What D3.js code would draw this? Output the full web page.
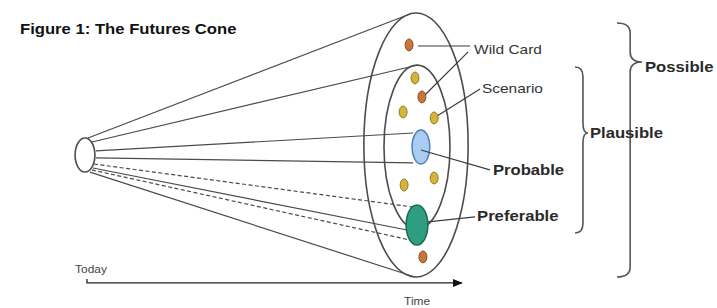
<!doctype html>
<html>
  <head>
    <style>
      body { margin: 0; background: white; }
      text { font-family: "Liberation Sans", Arial, Helvetica, sans-serif; }
    </style>
    <script src="https://d3js.org/d3.v7.min.js"></script>
  </head>
  <body>
    <div id="chart"></div>
    <script>
      var width = 717, height = 308;

      // diagram units: time 0 (today) .. 10 (horizon), spread -10 (top) .. 10 (bottom)
      var cone = [{ t: 0, s: 0.76, rt: 0.3, rs: 1.29 }];
      var rings = [
        { name: "Possible", t: 10.03, s: 0, rt: 1.58, rs: 10 },
        { name: "Plausible", t: 10.06, s: 0.15, rt: 1.0, rs: 6.2 }
      ];
      var blobs = [
        { name: "Probable", t: 10.18, s: 0.15, rt: 0.27, rs: 1.29, fill: "#a9cdf2", stroke: "#4f7fb8" },
        { name: "Preferable", t: 10.06, s: 6.06, rt: 0.33, rs: 1.52, fill: "#2f9e80", stroke: "#1c6b52" }
      ];
      var dotT = [9.82, 10.0, 10.21, 9.64, 10.58, 9.67, 10.58, 10.24];
      var dotS = [-7.58, -5.08, -3.64, -2.5, -2.05, 3.03, 2.5, 8.48];
      var dotKind = ["wild", "scenario", "wild", "scenario", "scenario", "scenario", "scenario", "wild"];

      // rays from today's cone to the future
      var rays = [
        { t0: 0.09, s0: -0.53, t1: 9.85, s1: -9.92, dash: false },
        { t0: 0.21, s0: -0.23, t1: 10.09, s1: -6.06, dash: false },
        { t0: 0.33, s0: 0.45, t1: 9.94, s1: -0.91, dash: false },
        { t0: 0.33, s0: 0.98, t1: 9.94, s1: 1.36, dash: false },
        { t0: 0.27, s0: 1.44, t1: 9.94, s1: 4.7, dash: true },
        { t0: 0.24, s0: 1.74, t1: 9.76, s1: 6.44, dash: false },
        { t0: 0.21, s0: 1.89, t1: 9.85, s1: 7.2, dash: true },
        { t0: 0.15, s0: 2.05, t1: 10.0, s1: 10.0, dash: false }
      ];
      var leaders = [
        { t0: 10.09, s0: -7.5, t1: 11.67, s1: -7.5 },
        { t0: 11.61, s0: -7.05, t1: 10.3, s1: -3.79 },
        { t0: 11.97, s0: -4.24, t1: 10.67, s1: -2.2 },
        { t0: 10.18, s0: 0.38, t1: 12.27, s1: 1.89 },
        { t0: 10.39, s0: 5.83, t1: 11.82, s1: 5.45 }
      ];
      var braces = [
        { tEnd: 14.85, tSpine: 15.09, tTip: 15.24, s0: -5.91, sMid: -0.91, s1: 6.67 },
        { tEnd: 16.12, tSpine: 16.52, tTip: 16.88, s0: -9.24, sMid: -6.29, s1: 10.0 }
      ];
      var labels = [
        { text: "Figure 1: The Futures Cone", t: -1.97, s: -8.41, size: 14, weight: "bold", color: "#111" },
        { text: "Wild Card", t: 11.79, s: -6.89, size: 13, weight: "normal", color: "#333" },
        { text: "Scenario", t: 12.03, s: -3.94, size: 13, weight: "normal", color: "#333" },
        { text: "Probable", t: 12.36, s: 2.27, size: 14, weight: "bold", color: "#2a2a2a" },
        { text: "Preferable", t: 11.88, s: 5.76, size: 14, weight: "bold", color: "#2a2a2a" },
        { text: "Plausible", t: 15.3, s: -0.53, size: 14, weight: "bold", color: "#2a2a2a" },
        { text: "Possible", t: 16.97, s: -5.53, size: 14, weight: "bold", color: "#2a2a2a" },
        { text: "Today", t: -0.3, s: 9.7, size: 10, weight: "normal", color: "#444" },
        { text: "Time", t: 9.67, s: 12.12, size: 10, weight: "normal", color: "#444" }
      ];
      var timeAxis = { t0: 0.06, t1: 11.42, s: 10.45 };

      var x = d3.scaleLinear().domain([0, 10]).range([85, 415]);
      var y = d3.scaleLinear().domain([-10, 10]).range([13, 277]);
      var kx = x(1) - x(0), ky = y(1) - y(0);

      var svg = d3.select("#chart").append("svg")
                  .attr("width", width)
                  .attr("height", height);

      svg.append("defs").append("marker")
         .attr("id", "arrow")
         .attr("viewBox", "0 0 10 10")
         .attr("refX", 9).attr("refY", 5)
         .attr("markerWidth", 8).attr("markerHeight", 8)
         .attr("orient", "auto")
         .append("path")
         .attr("d", "M0,1 L10,5 L0,9 Z")
         .attr("fill", "#111");

      // rays
      svg.selectAll(".ray")
         .data(rays)
         .enter().append("line")
         .attr("class", "ray")
         .attr("x1", d => x(d.t0)).attr("y1", d => y(d.s0))
         .attr("x2", d => x(d.t1)).attr("y2", d => y(d.s1))
         .attr("stroke", "#4a4a4a")
         .attr("stroke-width", 1.2)
         .attr("stroke-dasharray", d => d.dash ? "4,2.5" : null);

      // cone mouth and future rings
      svg.selectAll(".ring")
         .data(cone.concat(rings))
         .enter().append("ellipse")
         .attr("class", "ring")
         .attr("cx", d => x(d.t)).attr("cy", d => y(d.s))
         .attr("rx", d => d.rt * kx).attr("ry", d => d.rs * ky)
         .attr("fill", "none")
         .attr("stroke", "#4d4d4d")
         .attr("stroke-width", 1.6);

      svg.selectAll(".blob")
         .data(blobs)
         .enter().append("ellipse")
         .attr("class", "blob")
         .attr("cx", d => x(d.t)).attr("cy", d => y(d.s))
         .attr("rx", d => d.rt * kx).attr("ry", d => d.rs * ky)
         .attr("fill", d => d.fill)
         .attr("stroke", d => d.stroke)
         .attr("stroke-width", 1.5);

      // leader lines
      svg.selectAll(".leader")
         .data(leaders)
         .enter().append("line")
         .attr("class", "leader")
         .attr("x1", d => x(d.t0)).attr("y1", d => y(d.s0))
         .attr("x2", d => x(d.t1)).attr("y2", d => y(d.s1))
         .attr("stroke", "#3c3c3c")
         .attr("stroke-width", 1.2);

      // small wild card / scenario dots
      svg.selectAll(".dot")
         .data(dotT)
         .enter().append("ellipse")
         .attr("class", "dot")
         .attr("cx", d => x(d))
         .attr("cy", (d, i) => y(dotS[i]))
         .attr("rx", 0.12 * kx).attr("ry", 0.45 * ky)
         .attr("fill", (d, i) => dotKind[i] == "wild" ? "#c8743a" : "#d6b43a")
         .attr("stroke", (d, i) => dotKind[i] == "wild" ? "#8a4a22" : "#8c7a22")
         .attr("stroke-width", 1);

      // braces
      function bracePath(d) {
        var xe = x(d.tEnd), xs = x(d.tSpine), xt = x(d.tTip);
        var y0 = y(d.s0), ym = y(d.sMid), y1 = y(d.s1), r = 10;
        return "M" + xe + "," + y0 +
               " Q" + xs + "," + y0 + " " + xs + "," + (y0 + r) +
               " L" + xs + "," + (ym - r) +
               " Q" + xs + "," + ym + " " + xt + "," + ym +
               " Q" + xs + "," + ym + " " + xs + "," + (ym + r) +
               " L" + xs + "," + (y1 - r) +
               " Q" + xs + "," + y1 + " " + xe + "," + y1;
      }
      svg.selectAll(".brace")
         .data(braces)
         .enter().append("path")
         .attr("class", "brace")
         .attr("d", bracePath)
         .attr("fill", "none")
         .attr("stroke", "#555")
         .attr("stroke-width", 1.6);

      // time arrow
      svg.append("path")
         .attr("d", "M" + x(timeAxis.t0) + "," + (y(timeAxis.s) - 4) +
                    " L" + x(timeAxis.t0) + "," + y(timeAxis.s) +
                    " L" + x(timeAxis.t1) + "," + y(timeAxis.s))
         .attr("fill", "none")
         .attr("stroke", "#222")
         .attr("stroke-width", 1.3)
         .attr("marker-end", "url(#arrow)");

      // labels (source art is stretched horizontally)
      svg.selectAll(".label")
         .data(labels)
         .enter().append("text")
         .attr("class", "label")
         .attr("transform", d => "translate(" + x(d.t) + "," + y(d.s) + ") scale(1.19,1)")
         .style("font-size", d => d.size + "px")
         .style("font-weight", d => d.weight)
         .attr("fill", d => d.color)
         .text(d => d.text);
    </script>
  </body>
</html>
